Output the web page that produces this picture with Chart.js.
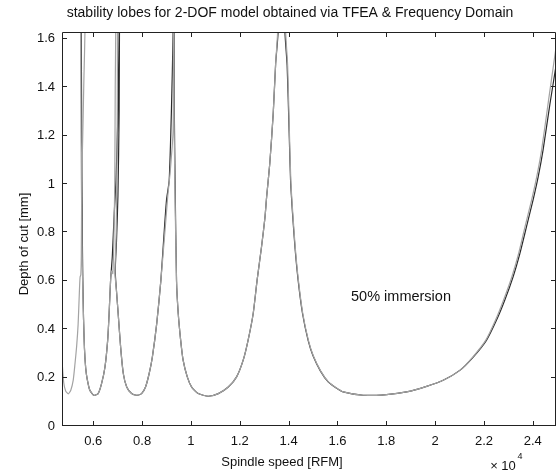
<!DOCTYPE html>
<html>
<head>
<meta charset="utf-8">
<script src="https://cdn.jsdelivr.net/npm/chart.js@4.4.1/dist/chart.umd.min.js"></script>
<style>
  html, body { margin: 0; padding: 0; background: #fff; }
  #wrap { width: 557px; height: 472px; position: relative; }
</style>
</head>
<body>
<div id="wrap"><canvas id="lobes"></canvas></div>
<script>
// axis ticks (spindle speed in units of 10^4 rpm, depth of cut in mm)
const xTicks = [0.6, 0.8, 1, 1.2, 1.4, 1.6, 1.8, 2, 2.2, 2.4];
const xTickLabels = ['0.6', '0.8', '1', '1.2', '1.4', '1.6', '1.8', '2', '2.2', '2.4'];
const yTicks = [0, 0.2, 0.4, 0.6, 0.8, 1, 1.2, 1.4, 1.6];
const yTickLabels = ['0', '0.2', '0.4', '0.6', '0.8', '1', '1.2', '1.4', '1.6'];

// TFEA result (black); values above the top run off the plot
const blackX = [0.549, 0.551, 0.553, 0.555, 0.557, 0.560, 0.564, 0.569, 0.575, 0.586, 0.603, 0.620, 0.634, 0.648, 0.659, 0.665, 0.671, 0.678, 0.686, 0.693, 0.700, 0.706, 0.708,
  0.709, 0.706, 0.701, 0.695, 0.690, 0.695, 0.702, 0.712, 0.723, 0.737, 0.757, 0.778, 0.798, 0.814, 0.829, 0.842, 0.860, 0.877, 0.891, 0.900, 0.911, 0.920, 0.927, 0.930,
  0.932, 0.932, 0.935, 0.941, 0.948, 0.958, 0.968, 0.985, 1.003, 1.030, 1.071, 1.112, 1.153, 1.187, 1.214, 1.234, 1.255, 1.271, 1.289, 1.303, 1.310, 1.323, 1.337, 1.347, 1.357, 1.362,
  1.380, 1.385, 1.394, 1.402, 1.408, 1.416, 1.426, 1.439, 1.457, 1.480, 1.500, 1.530, 1.562, 1.595, 1.623, 1.705, 1.801, 1.883, 1.965, 2.033, 2.101, 2.156, 2.210, 2.251, 2.285, 2.319, 2.347, 2.374, 2.401, 2.422, 2.442, 2.470, 2.500];
const blackY = [2.2, 1.6, 1.15, 0.81, 0.62, 0.45, 0.32, 0.24, 0.195, 0.148, 0.127, 0.134, 0.175, 0.244, 0.354, 0.465, 0.603, 0.70, 0.88, 1.016, 1.25, 1.63, 2.2,
  2.2, 1.3, 0.95, 0.76, 0.64, 0.56, 0.465, 0.327, 0.217, 0.161, 0.134, 0.127, 0.134, 0.161, 0.217, 0.285, 0.424, 0.603, 0.81, 0.934, 1.016, 1.3, 1.63, 2.2,
  2.2, 1.3, 1.02, 0.60, 0.465, 0.354, 0.272, 0.203, 0.161, 0.134, 0.123, 0.134, 0.161, 0.203, 0.272, 0.354, 0.465, 0.603, 0.74, 0.86, 0.947, 1.086, 1.292, 1.499, 1.63, 2.2,
  2.2, 1.63, 1.49, 1.223, 1.016, 0.88, 0.74, 0.603, 0.465, 0.354, 0.29, 0.228, 0.182, 0.157, 0.141, 0.127, 0.130, 0.141, 0.164, 0.189, 0.23, 0.285, 0.354, 0.437, 0.52, 0.616, 0.713, 0.823, 0.934, 1.03, 1.14, 1.33, 1.52];

// frequency-domain result (grey)
const grayX = [0.472, 0.479, 0.487, 0.498, 0.508, 0.518, 0.525, 0.532, 0.538, 0.543, 0.546, 0.549, 0.551, 0.553, 0.558, 0.562, 0.566, 0.568,
  0.550, 0.550, 0.553, 0.556, 0.560, 0.564, 0.569, 0.575, 0.586, 0.603, 0.620, 0.634, 0.648, 0.659, 0.665, 0.671, 0.675, 0.680, 0.684, 0.688, 0.690, 0.692, 0.693,
  0.700, 0.698, 0.694, 0.689, 0.695, 0.702, 0.712, 0.723, 0.737, 0.757, 0.778, 0.798, 0.814, 0.829, 0.842, 0.860, 0.877, 0.894, 0.905, 0.915, 0.927, 0.928, 0.929,
  0.931, 0.931, 0.934, 0.941, 0.948, 0.958, 0.968, 0.985, 1.003, 1.030, 1.071, 1.112, 1.153, 1.187, 1.214, 1.234, 1.255, 1.271, 1.289, 1.303, 1.310, 1.323, 1.337, 1.347, 1.355, 1.360,
  1.383, 1.388, 1.396, 1.403, 1.409, 1.417, 1.427, 1.440, 1.458, 1.481, 1.501, 1.531, 1.563, 1.596, 1.624, 1.705, 1.801, 1.883, 1.965, 2.033, 2.101, 2.154, 2.207, 2.247, 2.280, 2.314, 2.342, 2.368, 2.395, 2.416, 2.436, 2.465, 2.500];
const grayY = [0.27, 0.18, 0.145, 0.133, 0.148, 0.19, 0.255, 0.33, 0.42, 0.55, 0.615, 0.625, 0.70, 1.0, 1.25, 1.45, 1.63, 2.2,
  2.2, 1.2, 0.85, 0.62, 0.45, 0.32, 0.24, 0.195, 0.148, 0.127, 0.134, 0.175, 0.244, 0.354, 0.465, 0.603, 0.64, 0.63, 0.75, 1.0, 1.4, 1.63, 2.2,
  2.2, 1.2, 0.80, 0.63, 0.56, 0.465, 0.327, 0.217, 0.161, 0.134, 0.127, 0.134, 0.161, 0.217, 0.285, 0.424, 0.603, 0.81, 0.95, 1.05, 1.22, 1.63, 2.2,
  2.2, 1.3, 1.02, 0.60, 0.465, 0.354, 0.272, 0.203, 0.161, 0.134, 0.123, 0.134, 0.161, 0.203, 0.272, 0.354, 0.465, 0.603, 0.74, 0.86, 0.947, 1.086, 1.292, 1.499, 1.63, 2.2,
  2.2, 1.63, 1.49, 1.223, 1.016, 0.88, 0.74, 0.603, 0.465, 0.354, 0.29, 0.228, 0.182, 0.157, 0.141, 0.127, 0.130, 0.141, 0.164, 0.189, 0.23, 0.285, 0.354, 0.437, 0.52, 0.616, 0.713, 0.823, 0.934, 1.03, 1.14, 1.35, 1.60];

const FONT = "'Liberation Sans', Arial, Helvetica, sans-serif";

const toPoints = (xs, ys) => xs.map((x, i) => ({x: x, y: ys[i]}));

// matlab style box with inward ticks + the loose texts
const matlabFrame = {
    id: 'matlabFrame',
    afterDraw(chart) {
        const ctx = chart.ctx;
        const a = chart.chartArea;
        const xs = chart.scales.x;
        const ys = chart.scales.y;
        ctx.save();
        ctx.strokeStyle = '#222';
        ctx.lineWidth = 1;
        ctx.beginPath();
        ctx.rect(Math.round(a.left) + 0.5, Math.round(a.top) + 0.5, Math.round(a.right - a.left) - 1, Math.round(a.bottom - a.top) - 1);
        ctx.stroke();
        ctx.beginPath();
        xTicks.forEach(v => {
            const px = Math.round(xs.getPixelForValue(v)) + 0.5;
            ctx.moveTo(px, a.bottom); ctx.lineTo(px, a.bottom - 5);
            ctx.moveTo(px, a.top); ctx.lineTo(px, a.top + 5);
        });
        yTicks.forEach(v => {
            const py = Math.round(ys.getPixelForValue(v)) - 0.5;
            ctx.moveTo(a.left, py); ctx.lineTo(a.left + 5, py);
            ctx.moveTo(a.right, py); ctx.lineTo(a.right - 5, py);
        });
        ctx.stroke();

        ctx.fillStyle = '#111';
        ctx.textAlign = 'center';
        ctx.textBaseline = 'middle';
        ctx.font = '14px ' + FONT;
        ctx.fillText('stability lobes for 2-DOF model obtained via TFEA & Frequency Domain', 290, 13);
        ctx.font = '13px ' + FONT;
        ctx.fillText('Spindle speed [RFM]', 282, 462);
        ctx.fillText('\u00d7 10', 503, 466);
        ctx.font = '9px ' + FONT;
        ctx.fillText('4', 520, 457);
        ctx.font = '14.5px ' + FONT;
        ctx.fillText('50% immersion', 401, 297);
        ctx.translate(24, 244);
        ctx.rotate(-Math.PI / 2);
        ctx.font = '13px ' + FONT;
        ctx.fillText('Depth of cut [mm]', 0, 0);
        ctx.restore();
    }
};

new Chart(document.getElementById('lobes'), {
    type: 'line',
    data: {
        datasets: [
            {
                label: 'Frequency Domain',
                data: toPoints(grayX, grayY),
                borderColor: '#a3a3a3',
                borderWidth: 1.2,
                pointRadius: 0,
                tension: 0.2,
                clip: 0
            },
            {
                label: 'TFEA',
                data: toPoints(blackX, blackY),
                borderColor: '#2a2a2a',
                borderWidth: 1.2,
                pointRadius: 0,
                tension: 0.2,
                clip: 0
            }
        ]
    },
    options: {
        responsive: true,
        maintainAspectRatio: false,
        animation: false,
        layout: { padding: { top: 32, right: 1, left: 0, bottom: 0 } },
        plugins: { legend: { display: false }, tooltip: { enabled: false } },
        scales: {
            x: {
                type: 'linear',
                min: 0.472,
                max: 2.495,
                grid: { display: false, drawTicks: false },
                border: { display: false },
                afterFit: s => { s.height = 46; },
                afterBuildTicks: s => { s.ticks = xTicks.map(v => ({value: v})); },
                ticks: {
                    autoSkip: false,
                    maxRotation: 0,
                    padding: 8,
                    color: '#111',
                    font: { family: FONT, size: 13 },
                    callback: (v, i) => xTickLabels[i]
                }
            },
            y: {
                type: 'linear',
                min: 0,
                max: 1.6285,
                grid: { display: false, drawTicks: false },
                border: { display: false },
                afterFit: s => { s.width = 62; },
                afterBuildTicks: s => { s.ticks = yTicks.map(v => ({value: v})); },
                ticks: {
                    autoSkip: false,
                    padding: 7,
                    color: '#111',
                    font: { family: FONT, size: 13 },
                    callback: (v, i) => yTickLabels[i]
                }
            }
        }
    },
    plugins: [matlabFrame]
});
</script>
</body>
</html>
